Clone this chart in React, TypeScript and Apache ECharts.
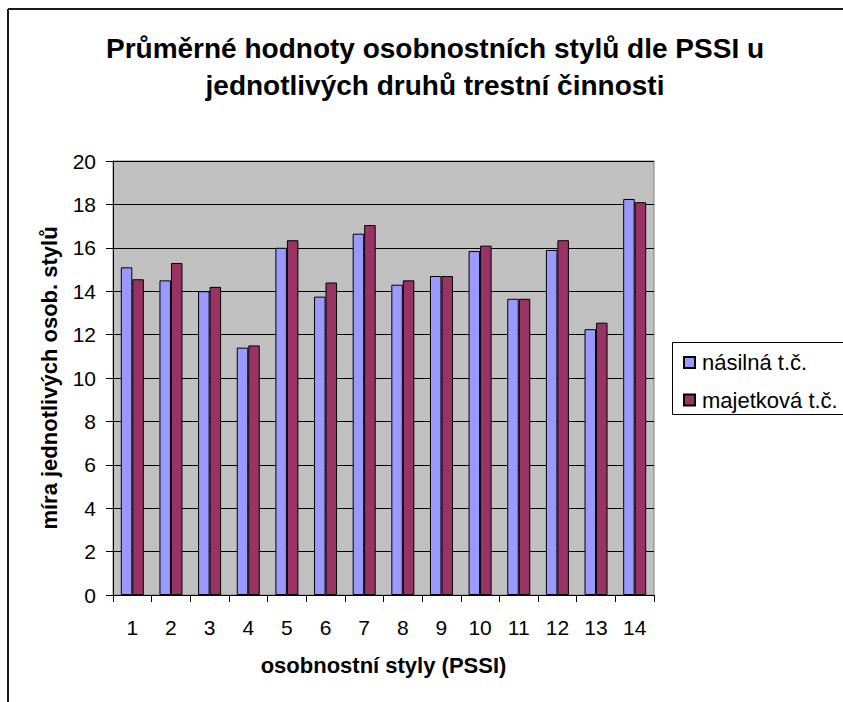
import React, { useEffect, useRef } from "react";
import * as echarts from "echarts";

const titleText = "Průměrné hodnoty osobnostních stylů dle PSSI u\njednotlivých druhů trestní činnosti";
const categories = ["1", "2", "3", "4", "5", "6", "7", "8", "9", "10", "11", "12", "13", "14"];
const seriesNames = ["násilná t.č.", "majetková t.č."];
const violentValues = [15.1, 14.5, 14.0, 11.4, 16.0, 13.75, 16.65, 14.3, 14.7, 15.85, 13.65, 15.9, 12.25, 18.25];
const propertyValues = [14.55, 15.3, 14.2, 11.5, 16.35, 14.4, 17.05, 14.5, 14.7, 16.1, 13.65, 16.35, 12.55, 18.1];
const xAxisName = "osobnostní styly (PSSI)";
const yAxisName = "míra jednotlivých osob. stylů";

const FONT = "'Liberation Sans', Arial, sans-serif";

export default function App() {
  const ref = useRef<HTMLDivElement>(null);
  useEffect(() => {
    if (!ref.current) return;
    const chart = echarts.init(ref.current, null, { renderer: "svg" });
    chart.setOption({
      animation: false,
      backgroundColor: "#ffffff",
      textStyle: { fontFamily: FONT },
      graphic: [
        {
          type: "line",
          shape: { x1: 8, y1: 9, x2: 8, y2: 702 },
          style: { stroke: "#1a1a1a", lineWidth: 2 },
        },
        {
          type: "line",
          shape: { x1: 8, y1: 9, x2: 843, y2: 9 },
          style: { stroke: "#1a1a1a", lineWidth: 2 },
        },
        {
          type: "text",
          x: 435,
          y: 30,
          style: {
            text: titleText,
            fontFamily: FONT,
            fontSize: 28,
            fontWeight: "bold",
            fill: "#000",
            align: "center",
            verticalAlign: "top",
            lineHeight: 37,
          },
        },
        {
          type: "rect",
          z: 1,
          shape: { x: 672.5, y: 342.5, width: 220, height: 72 },
          style: { fill: "#ffffff", stroke: "#000000", lineWidth: 1 },
        },
      ],
      legend: {
        z: 10,
        orient: "vertical",
        left: 683,
        top: 351.5,
        padding: 0,
        itemWidth: 11,
        itemHeight: 11,
        itemGap: 15.5,
        icon: "rect",
        textStyle: { fontSize: 22, color: "#000", fontFamily: FONT, padding: [0, 0, 0, 2] },
        data: seriesNames,
      },
      grid: {
        left: 113,
        top: 161,
        right: 189,
        bottom: 107,
        show: true,
        backgroundColor: "#C0C0C0",
        borderColor: "#808080",
        borderWidth: 1,
      },
      xAxis: {
        type: "category",
        data: categories,
        name: xAxisName,
        nameLocation: "middle",
        nameGap: 59,
        nameTextStyle: { fontSize: 22, fontWeight: "bold", color: "#000", fontFamily: FONT },
        axisLine: { lineStyle: { color: "#000", width: 1 } },
        axisTick: { show: true, length: 7, inside: false, alignWithLabel: false, lineStyle: { color: "#000" } },
        axisLabel: { fontSize: 21, color: "#000", margin: 22, fontFamily: FONT, interval: 0 },
        splitLine: { show: false },
      },
      yAxis: {
        type: "value",
        min: 0,
        max: 20,
        interval: 2,
        name: yAxisName,
        nameLocation: "middle",
        nameGap: 53,
        nameRotate: 90,
        nameTextStyle: { fontSize: 22, fontWeight: "bold", color: "#000", fontFamily: FONT },
        axisLine: { show: true, lineStyle: { color: "#000", width: 1 } },
        axisTick: { show: true, length: 7, inside: false, lineStyle: { color: "#000" } },
        axisLabel: { fontSize: 21, color: "#000", margin: 17, fontFamily: FONT },
        splitLine: { show: true, lineStyle: { color: "#000", width: 1 } },
      },
      series: [
        {
          name: seriesNames[0],
          type: "bar",
          data: violentValues,
          barWidth: 11.5,
          barGap: "0%",
          itemStyle: { color: "#9999FF", borderColor: "#000", borderWidth: 1 },
        },
        {
          name: seriesNames[1],
          type: "bar",
          data: propertyValues,
          barWidth: 11.5,
          barGap: "0%",
          itemStyle: { color: "#993366", borderColor: "#000", borderWidth: 1 },
        },
      ],
    });
    return () => chart.dispose();
  }, []);
  return (
    <div
      ref={ref}
      style={{ position: "absolute", left: 0, top: 0, width: 843, height: 702 }}
    />
  );
}
